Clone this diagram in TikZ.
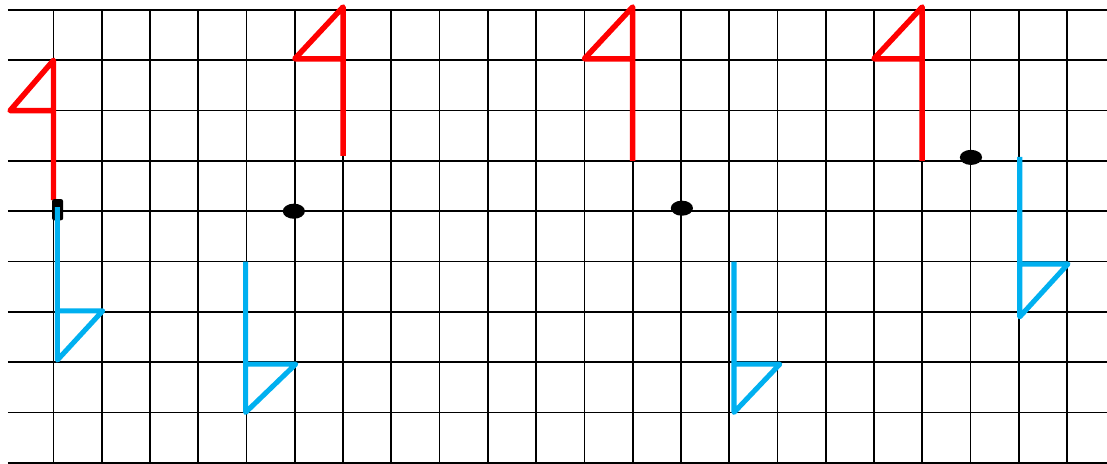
\documentclass[tikz,border=0pt]{standalone}
\usepackage{tikz}
\usetikzlibrary{calc}
\definecolor{flagred}{HTML}{FF0000}
\definecolor{flagblue}{HTML}{00B0F0}
\definecolor{gridink}{HTML}{000000}

\begin{document}
\begin{tikzpicture}[line join=round,
  gridline/.style={gridink,line width=1.2pt},
  redflag/.style={flagred,line width=3.9pt},
  blueflag/.style={flagblue,line width=3.6pt},
  blob/.style={fill=gridink}]
\begin{scope}[x=1.2065cm,y=-1.2575cm]
  \path[use as bounding box] (-1.1086,-0.1988) rectangle (21.8286,9.006);
  \fill[white] (-1.1086,-0.1988) rectangle (21.8286,9.006);
  % squared paper
  \foreach \c in {0,...,21}
    \draw[gridline] (\c,0) -- (\c,9.2);
  \foreach \r in {0,...,9}
    \draw[gridline] (-0.943,\r) -- (21.83,\r);
  % first figure: red flag to the left, blue flag below
  \draw[redflag] (0,3.78) -- (0,1) -- (-0.9,2) -- (0,2);
  \fill[blob,rounded corners=1.5pt] (-0.03,3.76) rectangle (0.2,4.18);
  \draw[blueflag] (0.08,3.92) -- (0.08,6.96) -- (1.02,5.98) -- (0.08,5.98);
  % second figure
  \draw[redflag] (6,2.9) -- (6,-0.06) -- (5,0.97) -- (6,0.97);
  \fill[blob] (4.98,4.0) ellipse[x radius=0.23,y radius=0.15];
  \draw[blueflag] (3.98,5) -- (3.98,8) -- (5.02,7.04) -- (3.98,7.04);
  % third figure
  \draw[redflag] (12,3) -- (12,-0.06) -- (11,0.97) -- (12,0.97);
  \fill[blob] (13.02,3.94) ellipse[x radius=0.23,y radius=0.15];
  \draw[blueflag] (14.1,5) -- (14.1,8) -- (15.05,7.04) -- (14.1,7.04);
  % fourth figure
  \draw[redflag] (18,3) -- (18,-0.06) -- (17,0.97) -- (18,0.97);
  \fill[blob] (19.01,2.93) ellipse[x radius=0.23,y radius=0.15];
  \draw[blueflag] (20.02,2.92) -- (20.02,6.1) -- (21.02,5.05) -- (20.02,5.05);
\end{scope}
\end{tikzpicture}
\end{document}
